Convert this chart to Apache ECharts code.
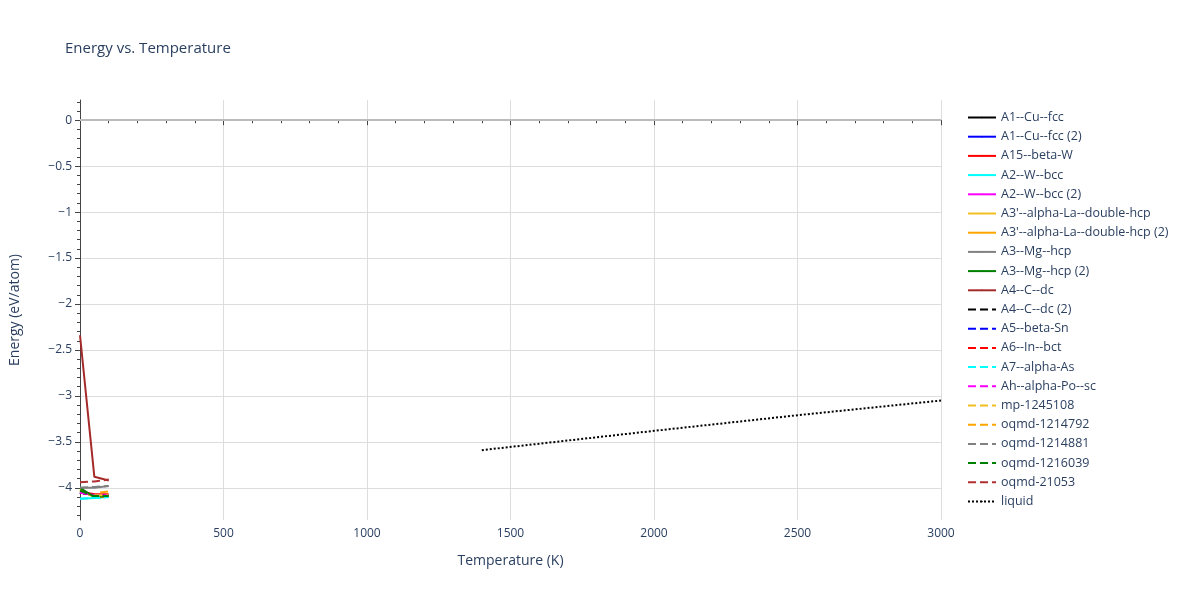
<!DOCTYPE html>
<html><head><meta charset="utf-8">
<script src="https://cdn.jsdelivr.net/npm/echarts@6/dist/echarts.min.js"></script>
<style>html,body{margin:0;background:#fff}#c{width:1200px;height:600px}</style>
</head><body><div id="c"></div>
<script>
// series names, colours and dash styles
const names = ['A1--Cu--fcc','A1--Cu--fcc (2)','A15--beta-W','A2--W--bcc','A2--W--bcc (2)',
  "A3'--alpha-La--double-hcp","A3'--alpha-La--double-hcp (2)",'A3--Mg--hcp','A3--Mg--hcp (2)','A4--C--dc',
  'A4--C--dc (2)','A5--beta-Sn','A6--In--bct','A7--alpha-As','Ah--alpha-Po--sc',
  'mp-1245108','oqmd-1214792','oqmd-1214881','oqmd-1216039','oqmd-21053','liquid']
const colors = ['#000000','#0000ff','#ff0000','#00ffff','#ff00ff','#f0c020','#ffa500','#808080','#008000','#a52a2a',
  '#000000','#0000ff','#ff0000','#00ffff','#ff00ff','#f0c020','#ffa500','#808080','#008000','#b03030','#000000']
const dashes = names.map((n,i)=> i===20 ? 'dotted' : (i>=10 ? 'dashed' : 'solid'))
// data per series: [T, E]
const values = [
  [[0,-4.05],[50,-4.08],[100,-4.08]],
  [[0,-4.05],[50,-4.08],[100,-4.08]],
  [[0,-4.04],[50,-4.07],[100,-4.07]],
  [[0,-4.12],[50,-4.11],[100,-4.1]],
  [[0,-4.05],[50,-4.08],[100,-4.08]],
  [[0,-4.02],[50,-4.1],[100,-4.1]],
  [[0,-4.02],[50,-4.1],[100,-4.1]],
  [[0,-4.0],[50,-4.0],[100,-3.98]],
  [[0,-4.0],[50,-4.1],[100,-4.09]],
  [[0,-2.34],[50,-3.88],[100,-3.92]],
  [[0,-4.05],[50,-4.08],[100,-4.08]],
  [[0,-4.05],[50,-4.08],[100,-4.08]],
  [[0,-4.05],[50,-4.08],[100,-4.08]],
  [[0,-4.12],[50,-4.11],[100,-4.1]],
  [[0,-4.05],[50,-4.08],[100,-4.08]],
  [[50,-4.08],[100,-4.08]],
  [[70,-4.05],[100,-4.04]],
  [[0,-4.0],[50,-3.99],[100,-3.98]],
  [[0,-4.03],[50,-4.09],[100,-4.09]],
  [[0,-3.94],[50,-3.93],[100,-3.91]],
  [[1400,-3.59],[2000,-3.38],[2500,-3.21],[3000,-3.05]]
]
const yTicks = [-4,-3.5,-3,-2.5,-2,-1.5,-1,-0.5,0]
const yMinor = []
for (let k = -43; k <= 2; k++) if (k % 5 !== 0) yMinor.push(k / 10)

const chart = echarts.init(document.getElementById('c'))
chart.setOption({
  animation:false,
  title:{text:'Energy vs. Temperature',left:60,top:36,textStyle:{fontFamily:'Open Sans',fontSize:15,fontWeight:'normal',color:'#2a3f5f'}},
  grid:{left:79,right:259,top:100,bottom:80},
  legend:{orient:'vertical',left:962,top:106,itemWidth:28,itemHeight:2,itemGap:6.2,
    textStyle:{fontFamily:'Open Sans',fontSize:12.5,color:'#2a3f5f'},data:names},
  xAxis:{type:'value',min:0,max:3000,interval:500,name:'Temperature (K)',nameLocation:'middle',nameGap:34,
    nameTextStyle:{fontFamily:'Open Sans',fontSize:14,color:'#2a3f5f'},
    axisLine:{lineStyle:{color:'#444'}},axisTick:{show:true,length:5,lineStyle:{color:'#444'}},
    minorTick:{show:true,splitNumber:5,length:3,lineStyle:{color:'#444'}},
    axisLabel:{fontFamily:'Open Sans',fontSize:12,color:'#2a3f5f',formatter:v=>String(v)},
    splitLine:{lineStyle:{color:'#ddd'}}},
  yAxis:[{type:'value',min:-4.35,max:0.22,name:'Energy (eV/atom)',nameLocation:'middle',nameGap:58,
    nameTextStyle:{fontFamily:'Open Sans',fontSize:14,color:'#2a3f5f'},
    axisLine:{show:true,onZero:false,lineStyle:{color:'#444'}},
    axisTick:{show:true,length:5,customValues:yTicks,lineStyle:{color:'#444'}},
    axisLabel:{customValues:yTicks,fontFamily:'Open Sans',fontSize:12,color:'#2a3f5f',
      formatter:v=>String(v).replace('-','\u2212')},
    splitLine:{lineStyle:{color:'#ddd'}}},
   {type:'value',min:-4.35,max:0.22,position:'left',axisLine:{show:false},splitLine:{show:false},
    axisLabel:{show:false},axisTick:{show:true,length:3,customValues:yMinor,lineStyle:{color:'#444'}}}],
  series:names.map((n,i)=>({name:n,type:'line',data:values[i],symbol:'none',color:colors[i],
    lineStyle:{width:2,type:dashes[i],color:colors[i]},
    markLine:i===0?{silent:true,symbol:'none',label:{show:false},lineStyle:{color:'#bbb',type:'solid',width:2},data:[{yAxis:0}]}:undefined}))
})
</script></body></html>
